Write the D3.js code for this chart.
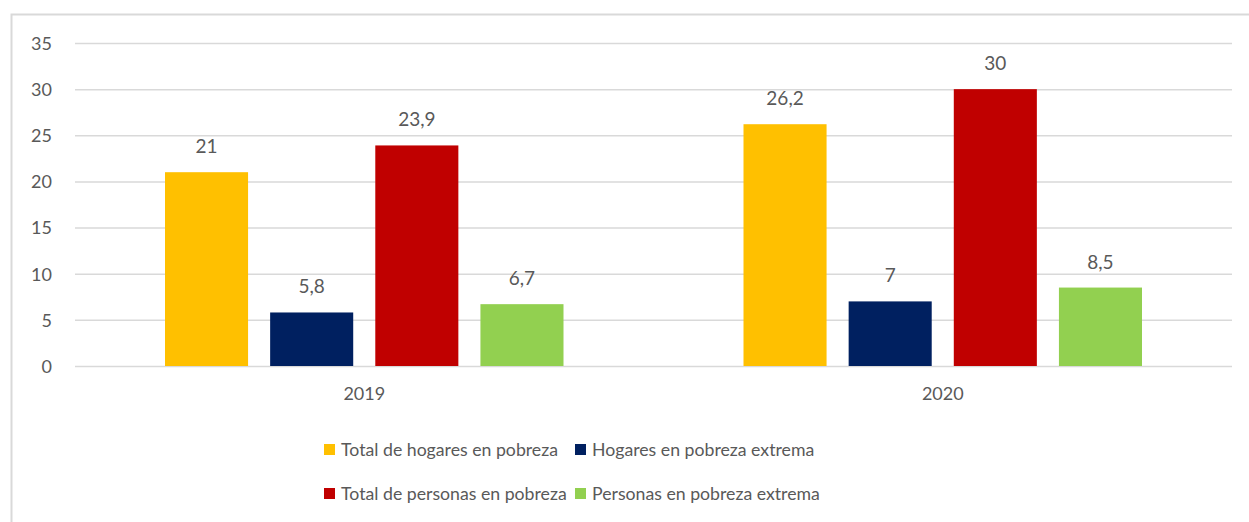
<!DOCTYPE html>
<html>
<head>
<meta charset="utf-8">
<script src="https://cdn.jsdelivr.net/npm/d3@7"></script>
<style>
  body { margin: 0; background: #fff; }
  svg text { font-family: Lato, sans-serif; fill: #595959; }
</style>
</head>
<body>
<svg></svg>
<script>
// data
const years = ["2019", "2020"];
const seriesNames = [
  "Total de hogares en pobreza",
  "Hogares en pobreza extrema",
  "Total de personas en pobreza",
  "Personas en pobreza extrema"
];
const seriesColors = ["#FFC000", "#002060", "#C00000", "#92D050"];
const values2019 = [21, 5.8, 23.9, 6.7];
const values2020 = [26.2, 7, 30, 8.5];
const yTicks = [0, 5, 10, 15, 20, 25, 30, 35];

const valuesByYear = { "2019": values2019, "2020": values2020 };

const W = 1249, H = 522;
const margin = { top: 43, right: 17, bottom: 156, left: 75 };
const width = W - margin.left - margin.right;
const height = H - margin.top - margin.bottom;

const svg = d3.select("svg").attr("width", W).attr("height", H);

// outer chart border (runs off the right/bottom edge like the screenshot)
svg.append("rect")
  .attr("x", 11.5).attr("y", 14.5)
  .attr("width", W).attr("height", H)
  .attr("fill", "none").attr("stroke", "#D9D9D9").attr("stroke-width", 2);

const plot = svg.append("g").attr("transform", `translate(${margin.left},${margin.top})`);

const x0 = d3.scaleBand().domain(years).range([0, width]).paddingInner(0).paddingOuter(0);
const x1 = d3.scaleBand().domain(seriesNames).range([90, x0.bandwidth() - 90]).paddingInner(0.21).paddingOuter(0);
const y = d3.scaleLinear().domain([0, 35]).range([height, 0]);

// gridlines
plot.append("g")
  .call(d3.axisLeft(y).tickValues(yTicks).tickSize(-width).tickFormat(""))
  .call(g => g.select(".domain").remove())
  .call(g => g.selectAll("line").attr("stroke", "#D9D9D9").attr("stroke-width", 1.5));

// y tick labels
plot.append("g")
  .attr("transform", "translate(-23,0)")
  .call(d3.axisLeft(y).tickValues(yTicks).tickSize(0).tickPadding(0))
  .call(g => g.select(".domain").remove())
  .call(g => g.selectAll("text").style("font-size", "18px").style("font-family", "Lato, sans-serif").attr("fill", "#595959").attr("dy", "0.35em"));

// bars
const groups = plot.selectAll(".yr").data(years).join("g")
  .attr("transform", d => `translate(${x0(d)},0)`);

groups.selectAll("rect")
  .data(yr => seriesNames.map((s, i) => ({ s, v: valuesByYear[yr][i], c: seriesColors[i] })))
  .join("rect")
  .attr("x", d => x1(d.s))
  .attr("width", x1.bandwidth())
  .attr("y", d => y(d.v))
  .attr("height", d => y(0) - y(d.v))
  .attr("fill", d => d.c);

groups.selectAll(".lbl")
  .data(yr => seriesNames.map((s, i) => ({ s, v: valuesByYear[yr][i] })))
  .join("text")
  .attr("class", "lbl")
  .attr("x", d => x1(d.s) + x1.bandwidth() / 2)
  .attr("y", d => y(d.v) - 19)
  .attr("text-anchor", "middle")
  .style("font-size", "19px")
  .text(d => String(d.v).replace(".", ","));

// x axis (baseline drawn with gridline at 0)
plot.append("g")
  .attr("transform", `translate(0,${height})`)
  .call(d3.axisBottom(x0).tickSize(0).tickPadding(21))
  .call(g => g.select(".domain").remove())
  .call(g => g.selectAll("text").style("font-size", "18px").style("font-family", "Lato, sans-serif").attr("fill", "#595959"));

// legend: 2 x 2
const legCols = d3.scaleOrdinal().domain([0, 1]).range([324, 575]);
const legRows = d3.scaleOrdinal().domain([0, 1]).range([450, 494]);
const legend = svg.append("g");
const items = legend.selectAll("g").data(seriesNames).join("g")
  .attr("transform", (d, i) => `translate(${legCols(i % 2)},${legRows(Math.floor(i / 2))})`);
items.append("rect")
  .attr("x", 0).attr("y", -6).attr("width", 11).attr("height", 11)
  .attr("fill", (d, i) => seriesColors[i]);
items.append("text")
  .attr("x", 17).attr("y", 0).attr("dy", "0.35em")
  .style("font-size", "17.7px")
  .text(d => d);
</script>
</body>
</html>
